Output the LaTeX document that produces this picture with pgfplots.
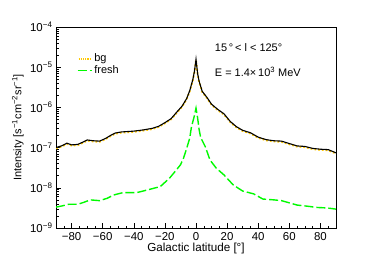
\documentclass[border=0pt]{standalone}
\usepackage{fontspec}
\setmainfont{Liberation Sans}
\usepackage{pgfplots}
\pgfplotsset{compat=1.18}
\usepackage{pgfplotstable}
\definecolor{bgorange}{RGB}{255,200,0}
\definecolor{freshgreen}{RGB}{0,250,0}

\pgfplotstableread{
b I
-90 1.00e-7
-86 1.12e-7
-83 1.29e-7
-80 1.17e-7
-76 1.20e-7
-72 1.41e-7
-70 1.55e-7
-66 1.48e-7
-62 1.45e-7
-58 1.70e-7
-55 2.00e-7
-52 2.30e-7
-48 2.45e-7
-44 2.51e-7
-40 2.57e-7
-34 2.75e-7
-28 3.02e-7
-24 3.39e-7
-20 4.17e-7
-16 5.25e-7
-12 7.94e-7
-9 1.07e-6
-6 1.66e-6
-4 2.63e-6
-2 5.01e-6
-1 7.94e-6
0 1.58e-5
1 7.08e-6
2 4.47e-6
4 2.51e-6
7 1.78e-6
10 1.20e-6
14 8.91e-7
18 6.92e-7
22 4.47e-7
26 3.31e-7
30 2.69e-7
35 2.34e-7
40 1.82e-7
45 1.58e-7
50 1.48e-7
55 1.45e-7
60 1.26e-7
65 1.10e-7
70 1.07e-7
75 9.55e-8
80 9.12e-8
85 8.91e-8
90 7.41e-8
}\totaltable

\pgfplotstableread{
b I
-90 3.31e-9
-86 3.55e-9
-82 3.89e-9
-76 3.89e-9
-72 4.37e-9
-68 5.01e-9
-62 4.79e-9
-57 5.50e-9
-53 6.61e-9
-47 7.59e-9
-38 7.59e-9
-30 9.12e-9
-23 1.07e-8
-17 1.74e-8
-14 2.40e-8
-10 3.72e-8
-8 5.50e-8
-6 9.55e-8
-4 1.74e-7
-3 3.16e-7
-2 4.47e-7
-1 6.31e-7
0 9.55e-7
1 5.62e-7
2 2.82e-7
3 1.78e-7
6 1.05e-7
9 4.90e-8
13 3.09e-8
18 2.09e-8
24 1.17e-8
30 8.32e-9
37 7.08e-9
43 5.25e-9
50 5.01e-9
55 4.79e-9
65 3.72e-9
72 3.47e-9
78 3.24e-9
84 3.16e-9
90 2.95e-9
}\freshtable

\begin{document}
\begin{tikzpicture}
\useasboundingbox (0,0) rectangle (374bp,268bp);
\begin{axis}[
  at={(56bp,40bp)}, anchor=south west,
  width=280bp, height=201bp, scale only axis,
  ymode=log,
  xmin=-90, xmax=90, ymin=1e-9, ymax=1e-4,
  xtick={-80,-60,-40,-20,0,20,40,60,80},
  xticklabels={−80,−60,−40,−20,0,20,40,60,80},
  minor xtick={-90,-85,...,90},
  ytick={1e-9,1e-8,1e-7,1e-6,1e-5,1e-4},
  yticklabels={10\textsuperscript{−9},10\textsuperscript{−8},10\textsuperscript{−7},10\textsuperscript{−6},10\textsuperscript{−5},10\textsuperscript{−4}},
  xtick pos=bottom, ytick pos=left,
  tick align=inside,
  major tick length=5bp, minor tick length=2.5bp,
  tick style={black, line width=0.5bp},
  axis line style={line width=0.7bp},
  ticklabel style={font=\fontsize{11.5}{13}\selectfont},
  xticklabel style={yshift=-1bp},
  xlabel={Galactic latitude [°]},
  ylabel={Intensity [s\textsuperscript{−1}cm\textsuperscript{−2}sr\textsuperscript{−1}]},
  label style={font=\fontsize{11}{13}\selectfont},
  xlabel style={at={(axis description cs:0.5,-0.1)}, anchor=center, font=\fontsize{11.7}{13}\selectfont},
  ylabel style={at={(axis description cs:-0.136,0.5)}, anchor=center},
  legend style={draw=none, fill=none, at={(rel axis cs:0.074,0.88)}, anchor=north west,
    font=\fontsize{11}{12}\selectfont, row sep=-1bp, inner sep=0pt,
    cells={anchor=west}},
  legend cell align=left,
  clip=true,
]
\addplot[bgorange, line width=1.8bp, dotted, yshift=-0.7bp,
  legend image code/.code={\draw[bgorange, line width=1.6bp, dash pattern=on 1.2bp off 1bp] (1bp,0bp) -- (14bp,0bp);}]
  table[x=b,y=I]{\totaltable};
\addlegendentry{bg}
\addplot[freshgreen, line width=1.4bp, dash pattern=on 9bp off 3bp,
  legend image code/.code={\draw[freshgreen, line width=1.3bp] (0bp,0bp) -- (14bp,0bp);}]
  table[x=b,y=I]{\freshtable};
\addlegendentry{fresh}
\addplot[black, line width=1.1bp, forget plot] table[x=b,y=I]{\totaltable};
\node[anchor=west, font=\fontsize{11}{13}\selectfont] at (rel axis cs:0.555,0.896) {15\,°\,< l < 125°};
\node[anchor=west, font=\fontsize{11}{13}\selectfont] at (rel axis cs:0.555,0.776) {E = 1.4×\,10\textsuperscript{3} MeV};
\end{axis}
\end{tikzpicture}
\end{document}
